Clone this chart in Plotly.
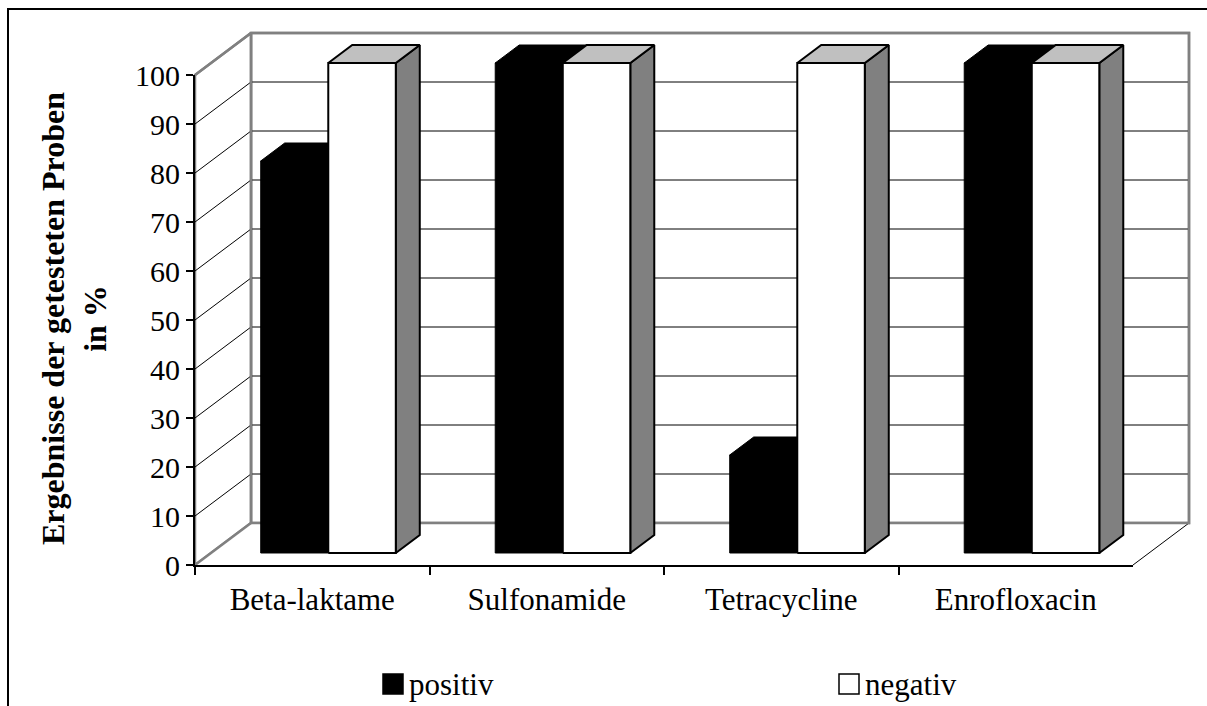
import plotly.graph_objects as go

# ---- data -------------------------------------------------------------
categories = ["Beta-laktame", "Sulfonamide", "Tetracycline", "Enrofloxacin"]
positiv = [80, 100, 20, 100]
negativ = [100, 100, 100, 100]
series_names = ["positiv", "negativ"]
y_tick_values = list(range(0, 101, 10))

# ---- layout geometry (pixels) ------------------------------------------
W, H = 1207, 706
AX_LEFT, AX_RIGHT = 195, 1133      # front x axis ends
AX_BOTTOM, AX_TOP = 565, 75        # front y axis: 0 and 100
CAT_PX = (AX_RIGHT - AX_LEFT) / len(categories)
UNIT_PX = (AX_BOTTOM - AX_TOP) / 100.0

# oblique depth of the 3-D box, in data units
DEPTH_X = 56 / CAT_PX
DEPTH_Y = 42 / UNIT_PX
BAR_FRONT, BAR_BACK = 0.286, 0.714  # bar slab inside the depth
BAR_W = 0.288                       # bar width in category units

FONT = "Liberation Serif"

x_range = [-0.5 - AX_LEFT / CAT_PX, -0.5 + (W - AX_LEFT) / CAT_PX]
y_range = [-(H - AX_BOTTOM) / UNIT_PX, AX_BOTTOM / UNIT_PX]


def proj(x, y, d):
    """Oblique projection of a point at depth d (0 = front, 1 = back wall)."""
    return (x + d * DEPTH_X, y + d * DEPTH_Y)


def poly(pts, fill, color, width):
    xs = [p[0] for p in pts] + [pts[0][0]]
    ys = [p[1] for p in pts] + [pts[0][1]]
    return go.Scatter(x=xs, y=ys, mode="lines", fill="toself", fillcolor=fill,
                      line=dict(color=color, width=width), hoverinfo="skip",
                      showlegend=False, xaxis="x", yaxis="y")


def line(pts, color, width):
    return go.Scatter(x=[p[0] for p in pts], y=[p[1] for p in pts], mode="lines",
                      line=dict(color=color, width=width), hoverinfo="skip",
                      showlegend=False, xaxis="x", yaxis="y")


fig = go.Figure()

x_lo, x_hi = -0.5, len(categories) - 0.5
y_lo, y_hi = y_tick_values[0], y_tick_values[-1]
GREY = "#808080"

# back wall
fig.add_trace(poly([proj(x_lo, y_lo, 1), proj(x_hi, y_lo, 1),
                    proj(x_hi, y_hi, 1), proj(x_lo, y_hi, 1)], "white", GREY, 2.5))
# left side wall
fig.add_trace(poly([proj(x_lo, y_lo, 0), proj(x_lo, y_lo, 1),
                    proj(x_lo, y_hi, 1), proj(x_lo, y_hi, 0)], "white", GREY, 2.5))
# floor
fig.add_trace(poly([proj(x_lo, y_lo, 0), proj(x_hi, y_lo, 0),
                    proj(x_hi, y_lo, 1), proj(x_lo, y_lo, 1)], "white", "rgba(0,0,0,0)", 0))
fig.add_trace(line([proj(x_hi, y_lo, 0), proj(x_hi, y_lo, 1)], "black", 1))

# gridlines: diagonal on the side wall, horizontal on the back wall
for v in y_tick_values[1:-1]:
    fig.add_trace(line([proj(x_lo, v, 0), proj(x_lo, v, 1), proj(x_hi + 0.002, v, 1)],
                       "black", 1))
# back-wall outline and side-wall top/bottom edges
fig.add_trace(line([proj(x_lo, y_hi, 0), proj(x_lo, y_hi, 1), proj(x_hi, y_hi, 1),
                    proj(x_hi, y_lo, 1), proj(x_lo, y_lo, 1), proj(x_lo, y_hi, 1)],
                   GREY, 2.5))
fig.add_trace(line([proj(x_lo, y_lo, 0), proj(x_lo, y_lo, 1)], GREY, 2.5))

# 3-D bars
styles = [
    dict(front="black", top="black", side="black", edge="black", width=1),
    dict(front="white", top="#c0c0c0", side="#808080", edge="black", width=2),
]
for i in range(len(categories)):
    for s, values in enumerate([positiv, negativ]):
        v = values[i]
        st = styles[s]
        x0 = i - BAR_W + s * BAR_W
        x1 = x0 + BAR_W
        f0, f1 = BAR_FRONT, BAR_BACK
        side = [proj(x1, 0, f0), proj(x1, 0, f1), proj(x1, v, f1), proj(x1, v, f0)]
        top = [proj(x0, v, f0), proj(x1, v, f0), proj(x1, v, f1), proj(x0, v, f1)]
        front = [proj(x0, 0, f0), proj(x1, 0, f0), proj(x1, v, f0), proj(x0, v, f0)]
        fig.add_trace(poly(side, st["side"], st["edge"], st["width"]))
        fig.add_trace(poly(top, st["top"], st["edge"], st["width"]))
        fig.add_trace(poly(front, st["front"], st["edge"], st["width"]))

# front axes live in their own subplot placed on the front face of the box
fig.add_trace(go.Scatter(x=categories, y=[None] * len(categories), mode="markers",
                         xaxis="x2", yaxis="y2", showlegend=False, hoverinfo="skip"))

fig.update_layout(
    template="none",
    width=W, height=H,
    margin=dict(l=0, r=0, t=0, b=0, pad=0, autoexpand=False),
    paper_bgcolor="white", plot_bgcolor="rgba(0,0,0,0)",
    showlegend=False,
    font=dict(family=FONT, color="black"),
    xaxis=dict(range=x_range, domain=[0, 1], visible=False, fixedrange=True,
               automargin=False),
    yaxis=dict(range=y_range, domain=[0, 1], visible=False, fixedrange=True,
               automargin=False),
    xaxis2=dict(domain=[AX_LEFT / W, AX_RIGHT / W], anchor="y2", type="category",
                categoryorder="array", categoryarray=categories,
                range=[-0.5, len(categories) - 0.5], tickson="boundaries",
                showline=True, linecolor="black", linewidth=2,
                ticks="outside", ticklen=8, tickwidth=1.5, tickcolor="black",
                showgrid=False, zeroline=False, ticklabelstandoff=6,
                automargin=False, fixedrange=True,
                tickfont=dict(family=FONT, size=31, color="black")),
    yaxis2=dict(domain=[(H - AX_BOTTOM) / H, (H - AX_TOP) / H], anchor="x2",
                range=[y_lo, y_hi], tickmode="array", tickvals=y_tick_values,
                showline=True, linecolor="black", linewidth=2,
                ticks="outside", ticklen=7, tickwidth=1.5, tickcolor="black",
                showgrid=False, zeroline=False, ticklabelstandoff=0,
                automargin=False, fixedrange=True,
                tickfont=dict(family=FONT, size=30, color="black")),
)

# axis title
fig.add_annotation(text="<b>Ergebnisse der getesteten Proben<br>in %</b>",
                   xref="paper", yref="paper", x=74 / W, y=1 - 319 / H,
                   xanchor="center", yanchor="middle", textangle=-90,
                   showarrow=False, font=dict(family=FONT, size=32, color="black"))

# legend
legend_fill = ["black", "white"]
legend_x = [383, 839]
LEG_Y, LEG_SIZE = 684, 20
for name, fill, lx in zip(series_names, legend_fill, legend_x):
    fig.add_shape(type="rect", xref="paper", yref="paper",
                  x0=lx / W, x1=(lx + LEG_SIZE) / W,
                  y0=1 - (LEG_Y + LEG_SIZE / 2) / H, y1=1 - (LEG_Y - LEG_SIZE / 2) / H,
                  fillcolor=fill, line=dict(color="black", width=1.5))
    fig.add_annotation(text=name, xref="paper", yref="paper",
                       x=(lx + LEG_SIZE + 4) / W, y=1 - LEG_Y / H,
                       xanchor="left", yanchor="middle", showarrow=False,
                       font=dict(family=FONT, size=31, color="black"))

# chart-area frame
fig.add_shape(type="rect", xref="paper", yref="paper",
              x0=8 / W, x1=1.02, y0=-0.02, y1=1 - 9 / H,
              line=dict(color="black", width=2), fillcolor="rgba(0,0,0,0)", layer="below")

fig.write_html("out.html")
